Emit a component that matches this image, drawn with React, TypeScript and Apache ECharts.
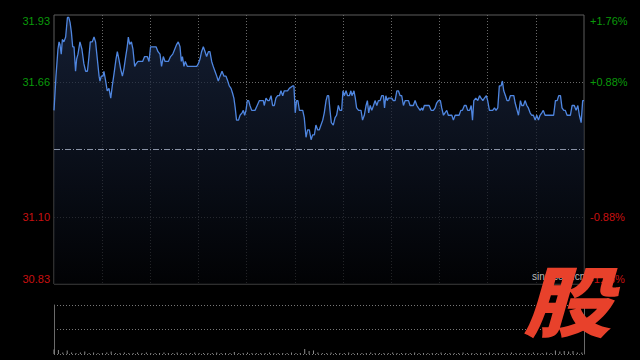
import React, { useEffect, useRef } from "react";
import * as echarts from "echarts";

// [minute since open, price]
const priceTicks: [number, number][] = [
  [0,31.54],[0.9,31.68],[1.8,31.79],[2.3,31.82],[2.7,31.81],[3.3,31.77],[3.8,31.83],[4.5,31.82],[5.3,31.84],[6.1,31.92],[6.7,31.92],[7.3,31.90],[7.9,31.86],[8.5,31.80],[9.1,31.80],[9.8,31.70],[10.3,31.75],[10.9,31.77],[11.8,31.82],[12.7,31.79],[13.6,31.73],[14.4,31.70],[15.2,31.70],[15.9,31.76],[16.5,31.82],[17.4,31.82],[18.2,31.84],[18.9,31.82],[19.7,31.75],[20.5,31.68],[20.9,31.66],[21.5,31.68],[22.3,31.68],[22.7,31.70],[23.5,31.66],[24.2,31.62],[25.0,31.63],[25.8,31.59],[26.5,31.64],[27.3,31.69],[28.2,31.75],[28.8,31.78],[29.5,31.75],[30.3,31.71],[31.1,31.68],[31.8,31.71],[32.6,31.76],[33.3,31.80],[33.8,31.84],[34.4,31.81],[35.2,31.82],[35.9,31.79],[36.7,31.72],[37.3,31.73],[38.2,31.74],[39.4,31.74],[40.3,31.74],[41.2,31.76],[42.4,31.76],[43.2,31.74],[43.9,31.80],[45.5,31.80],[46.4,31.80],[47.3,31.78],[48.2,31.77],
  [48.9,31.72],[49.7,31.76],[50.5,31.74],[52.0,31.74],[53.0,31.76],[54.0,31.77],[54.9,31.79],[55.8,31.81],[56.5,31.82],[57.3,31.80],[57.9,31.74],[58.4,31.76],[59.1,31.72],[59.7,31.74],[60.6,31.72],[61.8,31.72],[63.4,31.72],[64.9,31.72],[65.6,31.73],[66.4,31.75],[67.1,31.78],[67.9,31.80],[68.7,31.78],[69.4,31.76],[70.2,31.78],[70.9,31.78],[71.7,31.74],[72.4,31.72],[73.2,31.70],[74.0,31.68],[74.7,31.66],[75.5,31.68],[76.4,31.70],[77.3,31.68],[78.2,31.68],[79.0,31.66],[79.7,31.64],[80.5,31.63],[81.2,31.61],[81.8,31.59],[82.4,31.55],[83.0,31.50],[83.9,31.50],[84.6,31.52],[85.5,31.53],[86.1,31.54],[86.7,31.52],[87.3,31.54],[87.9,31.58],[88.5,31.58],[89.1,31.56],[89.9,31.54],[91.4,31.54],[92.4,31.56],[93.4,31.58],[94.4,31.58],[95.2,31.58],[95.6,31.56],[96.4,31.59],
  [97.2,31.58],[97.9,31.58],[98.7,31.60],[99.4,31.56],[100.2,31.56],[100.9,31.59],[101.7,31.60],[102.5,31.60],[103.2,31.62],[104.0,31.60],[104.7,31.62],[106.2,31.62],[107.0,31.63],[108.5,31.64],[109.1,31.64],[109.7,31.53],[110.3,31.58],[110.9,31.58],[111.6,31.54],[113.1,31.54],[113.8,31.51],[114.6,31.43],[115.3,31.46],[116.1,31.46],[116.9,31.42],[117.6,31.44],[118.4,31.44],[119.1,31.48],[119.9,31.46],[120.6,31.46],[121.4,31.48],[122.2,31.50],[122.9,31.53],[123.7,31.58],[124.3,31.60],[124.9,31.60],[125.5,31.54],[126.1,31.49],[127.0,31.48],[127.8,31.51],[128.5,31.52],[129.3,31.56],[130.0,31.54],[130.8,31.54],[131.4,31.62],[132.0,31.60],[132.8,31.62],[133.5,31.60],[134.3,31.60],[135.0,31.62],[135.5,31.60],[136.4,31.62],[137.0,31.59],[137.6,31.55],[138.5,31.54],[139.6,31.54],[140.3,31.50],[141.1,31.52],[141.9,31.56],[142.5,31.58],[143.1,31.53],[143.8,31.56],[144.5,31.54],
  [145.3,31.56],[146.0,31.58],[146.8,31.56],[147.5,31.58],[148.3,31.58],[149.0,31.60],[149.8,31.60],[150.3,31.55],[150.9,31.60],[151.5,31.58],[152.1,31.59],[152.8,31.59],[153.6,31.59],[154.3,31.58],[155.1,31.58],[155.9,31.62],[156.6,31.62],[157.4,31.60],[158.1,31.60],[158.9,31.56],[159.7,31.58],[161.2,31.58],[161.9,31.56],[162.7,31.56],[163.4,31.56],[164.2,31.58],[165.0,31.56],[165.7,31.55],[166.5,31.54],[167.2,31.55],[167.7,31.54],[168.4,31.56],[169.5,31.56],[170.6,31.56],[171.5,31.54],[172.5,31.54],[173.3,31.55],[174.0,31.57],[174.8,31.58],[175.7,31.58],[176.3,31.55],[177.1,31.52],[177.8,31.53],[178.6,31.54],[179.3,31.52],[180.1,31.52],[180.9,31.52],[181.6,31.50],[182.4,31.52],[183.6,31.52],[184.2,31.52],[185.0,31.54],[185.7,31.54],[186.6,31.56],[187.4,31.56],[188.1,31.54],[189.0,31.54],[189.7,31.56],[190.3,31.50],[190.9,31.58],[191.8,31.59],[192.7,31.58],
  [193.5,31.60],[194.2,31.59],[195.0,31.58],[195.7,31.59],[196.6,31.60],[197.2,31.58],[198.0,31.54],[199.5,31.54],[200.3,31.55],[201.0,31.54],[201.8,31.55],[202.5,31.64],[203.3,31.64],[203.9,31.66],[204.5,31.62],[205.3,31.60],[206.0,31.58],[206.8,31.58],[207.5,31.60],[209.1,31.60],[209.7,31.57],[210.6,31.54],[211.2,31.52],[212.1,31.58],[212.7,31.56],[213.5,31.56],[214.2,31.58],[215.0,31.56],[215.7,31.55],[216.5,31.53],[217.2,31.52],[218.0,31.52],[218.8,31.50],[219.5,31.52],[220.3,31.50],[221.0,31.52],[221.8,31.53],[222.5,31.54],[223.3,31.52],[224.5,31.52],[226.0,31.52],[227.2,31.52],[228.0,31.58],[228.8,31.58],[229.5,31.60],[230.3,31.60],[231.0,31.55],[231.8,31.54],[232.5,31.54],[233.3,31.52],[234.8,31.52],[235.6,31.56],[236.6,31.56],[237.4,31.54],[238.2,31.56],[238.9,31.52],[239.7,31.49],[240.4,31.58],[241,31.58],
];

// volume every 2 minutes (relative units)
const volumes: number[] = [
  9,8,3,7,3,2,3,5,2,3,2,2,3,5,2,2,3,2,2,3,
  2,3,2,2,2,3,2,2,3,2,2,2,3,2,2,2,2,3,2,2,
  2,4,2,2,3,2,2,2,2,3,2,2,2,2,3,2,2,10,6,7,
  3,2,2,3,2,2,2,3,2,2,2,2,3,2,2,2,2,3,2,2,
  2,2,3,2,2,2,2,2,3,2,2,2,2,3,2,2,2,2,2,3,
  2,2,2,2,3,2,2,2,2,3,2,2,3,2,7,5,6,5,6,3,3,
];

const prevClose = 31.38;
const priceMin = 30.83;
const priceMax = 31.93;
const leftLabels = ["30.83", "31.10", "", "31.66", "31.93"];
const rightLabels = ["-1.76%", "-0.88%", "", "+0.88%", "+1.76%"];
const sessionMinutes = 241;

const GREEN = "#0a9a0a";
const RED = "#c81010";
const GRID_DOT = "#6a6a6a";
const FONT = 'Arial, "Liberation Sans", sans-serif';

export default function App() {
  const ref = useRef<HTMLDivElement>(null);
  useEffect(() => {
    if (!ref.current) return;
    const chart = echarts.init(ref.current, null, { renderer: "svg" });
    const labelColor = (v: any) => (Number(v) > 2 ? GREEN : RED);
    chart.setOption({
      animation: false,
      backgroundColor: "#000",
      textStyle: { fontFamily: FONT },
      grid: [
        { left: 54, right: 56, top: 15, height: 269, show: true, borderColor: "#5c5c5c", borderWidth: 1, backgroundColor: "transparent" },
        { left: 54, right: 56, top: 305, height: 49, show: false },
      ],
      xAxis: [
        { gridIndex: 0, type: "value", min: 0, max: sessionMinutes, show: false },
        {
          gridIndex: 0, type: "value", min: 0, max: 11, interval: 1,
          axisLine: { show: false }, axisTick: { show: false }, axisLabel: { show: false },
          splitLine: {
            show: true,
            lineStyle: {
              type: [1, 2], width: 1,
              color: ["transparent", GRID_DOT, GRID_DOT, GRID_DOT, GRID_DOT, GRID_DOT, GRID_DOT, GRID_DOT, GRID_DOT, GRID_DOT, GRID_DOT, "transparent"],
            },
          },
        },
        { gridIndex: 1, type: "value", min: 0, max: sessionMinutes, show: false },
      ],
      yAxis: [
        { gridIndex: 0, type: "value", min: priceMin, max: priceMax, show: false },
        {
          gridIndex: 0, type: "value", min: 0, max: 4, interval: 1, position: "left",
          axisLine: { show: false }, axisTick: { show: false },
          axisLabel: {
            margin: 4, fontSize: 11, fontFamily: FONT,
            formatter: (v: number) => leftLabels[Math.round(v)] ?? "",
            color: labelColor,
            verticalAlignMinLabel: "bottom",
            verticalAlignMaxLabel: "top",
          },
          splitLine: {
            show: true,
            lineStyle: { type: [1, 2], width: 1, color: ["transparent", GRID_DOT, "transparent", GRID_DOT, "transparent"] },
          },
        },
        {
          gridIndex: 0, type: "value", min: 0, max: 4, interval: 1, position: "right",
          axisLine: { show: false }, axisTick: { show: false }, splitLine: { show: false },
          axisLabel: {
            margin: 6, fontSize: 11, fontFamily: FONT,
            formatter: (v: number) => rightLabels[Math.round(v)] ?? "",
            color: labelColor,
            verticalAlignMinLabel: "bottom",
            verticalAlignMaxLabel: "top",
          },
        },
        {
          gridIndex: 1, type: "value", min: 0, max: 100, interval: 50, position: "left",
          axisLine: { show: true, lineStyle: { color: "#6a6a6a", width: 1 } },
          axisTick: { show: false }, axisLabel: { show: false },
          splitLine: { show: true, lineStyle: { type: [1, 2], width: 1, color: "#777" } },
        },
        {
          gridIndex: 1, type: "value", min: 0, max: 100, position: "right",
          axisLine: { show: true, lineStyle: { color: "#6a6a6a", width: 1 } },
          axisTick: { show: false }, axisLabel: { show: false }, splitLine: { show: false },
        },
      ],
      series: [
        {
          type: "line",
          xAxisIndex: 0,
          yAxisIndex: 0,
          data: priceTicks,
          showSymbol: false,
          symbol: "none",
          lineStyle: { color: "#4f86e0", width: 1.3 },
          areaStyle: {
            origin: "start",
            color: new echarts.graphic.LinearGradient(0, 0, 0, 1, [
              { offset: 0, color: "#1c2a47" },
              { offset: 1, color: "#020306" },
            ]),
          },
          markLine: {
            silent: true,
            symbol: "none",
            label: { show: false },
            lineStyle: { color: "#8a93a6", type: [6, 2, 1, 2], width: 1 },
            data: [{ yAxis: prevClose }],
          },
          z: 3,
        },
        {
          type: "bar",
          xAxisIndex: 2,
          yAxisIndex: 3,
          data: volumes.map((v, i) => [i * 2, v]),
          barWidth: 1,
          itemStyle: { color: "#8c8c8c" },
          z: 3,
        },
      ],
      graphic: [
        {
          type: "text",
          left: 532,
          top: 271,
          z: 50,
          style: { text: "sina.com.cn", fill: "#bbbbbb", font: `10px ${FONT}` },
        },
        {
          type: "text",
          x: 523,
          y: 259,
          scaleX: 1.15,
          z: 100,
          style: {
            text: "股",
            fill: "#e8412b",
            fontSize: 77,
            fontWeight: 900,
            fontStyle: "italic",
            fontFamily: '"Noto Sans CJK SC", sans-serif',
          },
        },
      ],
    });
    return () => chart.dispose();
  }, []);
  return (
    <div
      ref={ref}
      style={{ position: "fixed", left: 0, top: 0, width: 640, height: 360, background: "#000" }}
    />
  );
}
